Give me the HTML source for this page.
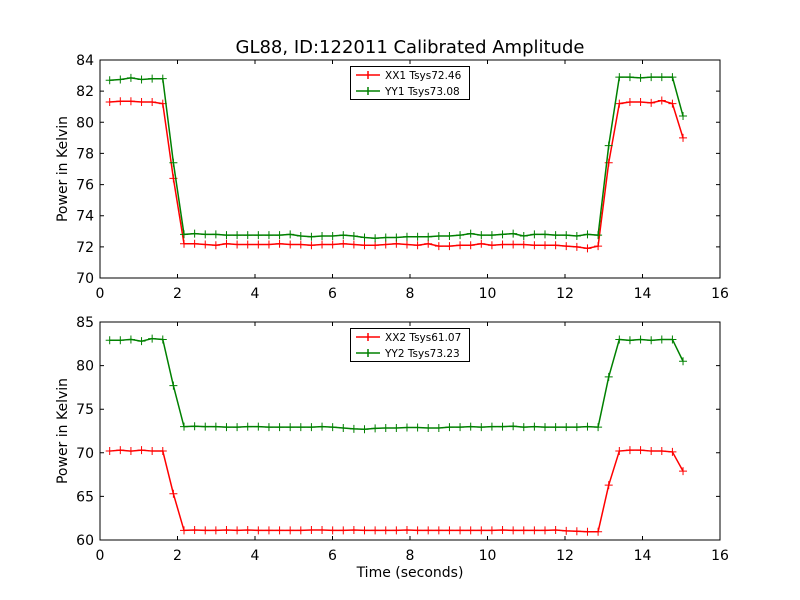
<!DOCTYPE html>
<html><head><meta charset="utf-8"><style>
html,body{margin:0;padding:0;background:#fff}
svg{display:block;font-family:"DejaVu Sans","Liberation Sans",sans-serif}
</style></head><body>
<svg id="chart" width="800" height="600" viewBox="0 0 800 600">
<rect width="800" height="600" fill="#fff"/>
<text x="410" y="53" font-size="18" text-anchor="middle">GL88, ID:122011 Calibrated Amplitude</text>
</svg>
<script>
const xStart = 0.25, xStep = 0.274;
const xx1 = [81.3,81.35,81.35,81.3,81.3,81.2,76.4,
72.2,72.2,72.15,72.1,72.2,72.15,72.15,72.15,72.15,72.2,72.15,72.15,72.1,72.15,72.15,72.2,72.15,72.1,72.1,72.15,72.2,72.15,72.1,72.2,72.05,72.05,72.1,72.1,72.2,72.1,72.15,72.15,72.15,72.1,72.1,72.1,72.05,72.0,71.9,72.05,
77.4,81.2,81.3,81.3,81.25,81.4,81.2,79.0];
const yy1 = [82.7,82.75,82.85,82.75,82.8,82.8,77.4,
72.8,72.85,72.8,72.8,72.75,72.75,72.75,72.75,72.75,72.75,72.8,72.7,72.65,72.7,72.7,72.75,72.7,72.6,72.55,72.6,72.6,72.65,72.65,72.65,72.7,72.7,72.75,72.85,72.75,72.75,72.8,72.85,72.7,72.8,72.8,72.75,72.75,72.7,72.8,72.75,
78.5,82.9,82.9,82.85,82.9,82.9,82.9,80.4];
const xx2 = [70.2,70.3,70.2,70.3,70.2,70.2,65.3,
61.1,61.15,61.1,61.1,61.15,61.1,61.15,61.1,61.1,61.1,61.1,61.1,61.15,61.15,61.1,61.1,61.15,61.1,61.1,61.1,61.1,61.15,61.1,61.1,61.1,61.1,61.1,61.1,61.1,61.1,61.15,61.1,61.1,61.1,61.1,61.15,61.05,61.0,60.95,60.95,
66.3,70.2,70.3,70.3,70.2,70.2,70.1,67.9];
const yy2 = [82.9,82.9,83.0,82.8,83.1,83.0,77.7,
73.0,73.05,73.0,73.0,72.95,72.95,73.0,73.0,72.95,72.95,72.95,72.95,72.95,73.0,72.95,72.85,72.75,72.7,72.8,72.85,72.85,72.9,72.9,72.85,72.85,72.95,72.95,73.0,72.95,73.0,73.0,73.05,72.95,73.0,72.95,72.95,72.95,72.95,73.0,72.95,
78.7,83.0,82.9,83.0,82.9,83.0,83.0,80.5];
const xTicks = [0,2,4,6,8,10,12,14,16];
const yTicksTop = [70,72,74,76,78,80,82,84];
const yTicksBot = [60,65,70,75,80,85];
const legendTop = ["XX1 Tsys72.46","YY1 Tsys73.08"];
const legendBot = ["XX2 Tsys61.07","YY2 Tsys73.23"];

const NS="http://www.w3.org/2000/svg";
const svg=document.getElementById('chart');
function mk(tag,attrs,parent){const e=document.createElementNS(NS,tag);for(const k in attrs)e.setAttribute(k,attrs[k]);(parent||svg).appendChild(e);return e;}

function panel(top,bottom,ymin,ymax,yTicks,s1,s2,leg,prefix,showXLabel){
  const L=100,R=720;
  const g=mk('g',{});
  
  
  const xs=v=>L+(v-0)/(16-0)*(R-L);
  const ys=v=>bottom-(v-ymin)/(ymax-ymin)*(bottom-top);
  const series=[[s1,'#ff0000',leg[0]],[s2,'#008000',leg[1]]];
  series.forEach(([data,col,name],si)=>{
    const pts=data.map((v,i)=>xs(xStart+i*xStep).toFixed(2)+','+ys(v).toFixed(2)).join(' ');
    const pl=mk('polyline',{points:pts,fill:'none',stroke:col,'stroke-width':1.5},g);
    
    
    data.forEach((v,i)=>{
      const x=xs(xStart+i*xStep),y=ys(v);
      const m=mk('path',{d:`M${x-4},${y}H${x+4}M${x},${y-4}V${y+4}`,stroke:col,'stroke-width':1},g);
      
      
    });
  });
  const frame=mk('rect',{x:L,y:top,width:R-L,height:bottom-top,fill:'none',stroke:'#000','stroke-width':1},g);
  
  
  xTicks.forEach(t=>{
    const x=xs(t);
    mk('path',{d:`M${x},${bottom}v-4M${x},${top}v4`,stroke:'#000'},g);
    const tx=mk('text',{x:x,y:bottom+20,'font-size':14,'text-anchor':'middle'},g);
    tx.textContent=t;
    
    
  });
  yTicks.forEach(t=>{
    const y=ys(t);
    mk('path',{d:`M${L},${y}h4M${R},${y}h-4`,stroke:'#000'},g);
    const tx=mk('text',{x:L-6,y:y+5,'font-size':14,'text-anchor':'end'},g);
    tx.textContent=t;
    
    
  });
  const yl=mk('text',{x:0,y:0,'font-size':14,'text-anchor':'middle',transform:`translate(67,${(top+bottom)/2}) rotate(-90)`},g);
  yl.textContent='Power in Kelvin';
  
  
  if(showXLabel){
    const xl=mk('text',{x:410,y:577,'font-size':14,'text-anchor':'middle'},g);
    xl.textContent='Time (seconds)';
    
    
  }
  const lg=mk('g',{},g);
  
  
  mk('rect',{x:350.5,y:top+6.5,width:119,height:33,fill:'#fff',stroke:'#000'},lg);
  series.forEach(([d,col,name],i)=>{
    const y=top+15+i*16;
    mk('path',{d:`M356,${y}h24M368,${y-4}v8`,stroke:col,'stroke-width':1.5},lg);
    const tx=mk('text',{x:385,y:y+4,'font-size':10.5},lg);
    tx.textContent=name;
    
    
  });
}
panel(60,278,70,84,yTicksTop,xx1,yy1,legendTop,'top',false);
panel(322,540,60,85,yTicksBot,xx2,yy2,legendBot,'bottom',true);
</script>
</body></html>
